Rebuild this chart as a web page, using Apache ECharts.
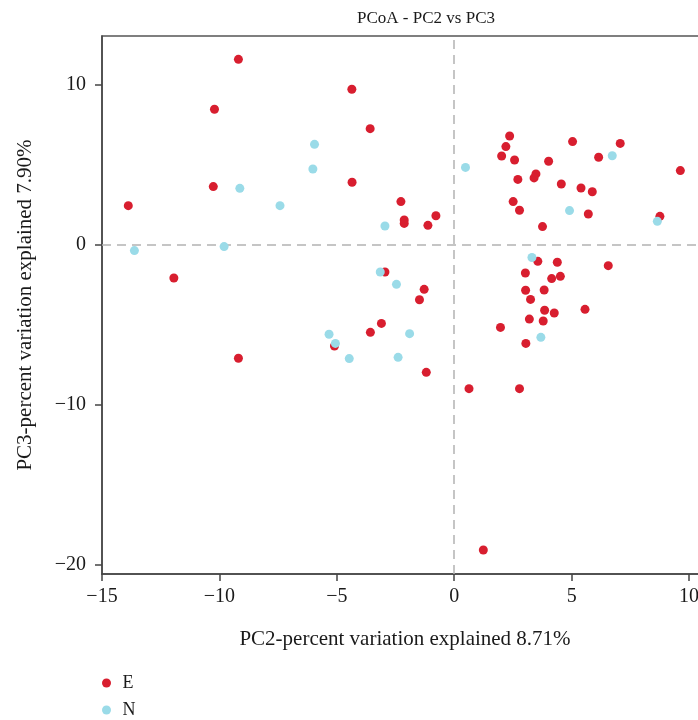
<!DOCTYPE html>
<html>
<head>
<meta charset="utf-8">
<script src="https://cdn.jsdelivr.net/npm/echarts@6/dist/echarts.min.js"></script>
<style>html,body{margin:0;padding:0;background:#fff;overflow:hidden}#c{width:740px;height:720px}</style>
</head>
<body>
<div id="c"></div>
<script>
const seriesNames = ['E', 'N'];
const E_x = [-9.19,-10.21,-10.26,-13.88,-4.36,-3.58,-4.35,-2.27,-2.13,-2.13,-1.12,-0.78,
  2.36,2.20,2.02,2.57,5.04,7.07,6.15,4.02,9.63,2.71,3.48,3.40,4.56,5.40,5.88,2.51,2.78,5.71,8.76,3.76,
  3.56,4.39,6.56,3.03,4.15,4.52,3.04,3.83,3.25,3.85,4.26,5.57,3.20,3.79,1.97,3.05,0.63,2.78,1.24,
  -11.94,-9.19,-2.95,-1.28,-1.48,-3.10,-3.57,-5.10,-1.19];
const E_y = [11.6,8.48,3.65,2.46,9.73,7.27,3.92,2.71,1.56,1.35,1.23,1.83,
  6.81,6.15,5.56,5.31,6.46,6.35,5.48,5.23,4.65,4.10,4.44,4.19,3.81,3.56,3.33,2.71,2.17,1.94,1.79,1.15,
  -1.02,-1.08,-1.29,-1.75,-2.10,-1.96,-2.83,-2.81,-3.40,-4.08,-4.25,-4.02,-4.63,-4.75,-5.15,-6.15,-8.98,-8.98,-19.06,
  -2.06,-7.08,-1.69,-2.77,-3.42,-4.90,-5.46,-6.31,-7.96];
const N_x = [-9.13,-7.42,-13.62,-9.80,-5.95,-6.02,-2.95,0.48,6.73,4.91,8.65,3.31,3.69,
  -3.15,-2.46,-1.90,-5.33,-5.06,-4.47,-2.39];
const N_y = [3.54,2.46,-0.35,-0.10,6.29,4.75,1.19,4.85,5.58,2.15,1.48,-0.78,-5.77,
  -1.69,-2.46,-5.54,-5.58,-6.15,-7.10,-7.02];
const xTicks = [-15,-10,-5,0,5,10];
const yTicks = [-20,-10,0,10];

const FONT = '"Liberation Serif", "DejaVu Serif", serif';
const fmt = v => String(v).replace('-', '\u2212');
const zip = (xs, ys) => xs.map((x, i) => [x, ys[i]]);

const chart = echarts.init(document.getElementById('c'), null, {renderer: 'canvas'});
chart.setOption({
  animation: false,
  backgroundColor: '#fff',
  textStyle: {fontFamily: FONT, color: '#1a1a1a'},
  title: {
    text: 'PCoA - PC2 vs PC3',
    left: 421, top: 5, textAlign: 'center',
    textStyle: {fontFamily: FONT, fontSize: 17, fontWeight: 'normal', color: '#1a1a1a'}
  },
  legend: {
    orient: 'vertical', left: 102, top: 674, height: 80, padding: 0,
    itemWidth: 10, itemHeight: 9, itemGap: 9,
    icon: 'circle',
    textStyle: {fontFamily: FONT, fontSize: 18, color: '#1a1a1a', padding: [0, 0, 0, 6]},
    data: seriesNames
  },
  grid: {
    left: 102, top: 36, width: 634, height: 538,
    show: true, borderColor: '#555', borderWidth: 1.5, containLabel: false
  },
  xAxis: {
    type: 'value', min: -15, max: 12, interval: 5,
    name: 'PC2-percent variation explained 8.71%',
    nameLocation: 'middle', nameGap: 55,
    nameTextStyle: {fontFamily: FONT, fontSize: 21, color: '#1a1a1a', padding: [0, 28, 0, 0]},
    axisLine: {onZero: false, lineStyle: {color: '#444', width: 1.5}},
    axisTick: {show: true, length: 7, lineStyle: {color: '#444', width: 1.5}, customValues: xTicks},
    axisLabel: {fontFamily: FONT, fontSize: 20, color: '#1a1a1a', margin: 13, formatter: fmt, customValues: xTicks},
    splitLine: {show: false}
  },
  yAxis: {
    type: 'value', min: -20.56, max: 13.06,
    name: 'PC3-percent variation explained 7.90%',
    nameLocation: 'middle', nameGap: 66,
    nameTextStyle: {fontFamily: FONT, fontSize: 21, color: '#1a1a1a'},
    axisLine: {onZero: false, lineStyle: {color: '#444', width: 1.5}},
    axisTick: {show: true, length: 7, lineStyle: {color: '#444', width: 1.5}, customValues: yTicks},
    axisLabel: {fontFamily: FONT, fontSize: 20, color: '#1a1a1a', margin: 16, formatter: fmt, customValues: yTicks},
    splitLine: {show: false}
  },
  series: [
    {
      name: 'E', type: 'scatter', symbol: 'circle', symbolSize: 9,
      itemStyle: {color: '#d81e2f', opacity: 1},
      data: zip(E_x, E_y),
      z: 3,
      markLine: {
        silent: true, symbol: ['none', 'none'], label: {show: false},
        lineStyle: {color: '#b3b3b3', type: [9, 6], width: 1.5},
        data: [{xAxis: 0}, {yAxis: 0}],
        z: 1
      }
    },
    {
      name: 'N', type: 'scatter', symbol: 'circle', symbolSize: 9,
      itemStyle: {color: '#9adbe8', opacity: 1},
      data: zip(N_x, N_y),
      z: 4
    }
  ]
});
</script>
</body>
</html>
